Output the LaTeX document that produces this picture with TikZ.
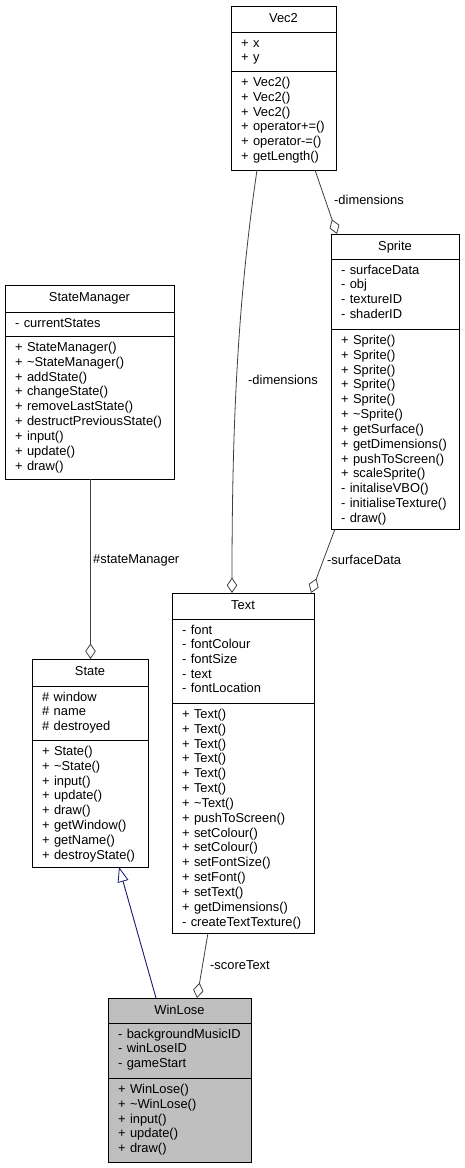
\documentclass[tikz,border=0pt]{standalone}
\usepackage{fontspec}
\setmainfont{Liberation Sans}
\usetikzlibrary{arrows.meta}
\definecolor{conn}{HTML}{404040}
\definecolor{inh}{HTML}{191970}
\definecolor{hl}{HTML}{BFBFBF}
\tikzset{
  classbox/.style={draw=black, line width=0.9pt, inner sep=0pt, outer sep=0pt},
  boxline/.style={draw=black, line width=0.9pt},
  titletext/.style={anchor=base, inner sep=0pt, font=\fontsize{12.9}{14.6}\selectfont},
  attrtext/.style={anchor=base west, align=left, text width=150pt, inner sep=0pt, font=\fontsize{12.9}{14.6}\selectfont},
  methtext/.style={anchor=base west, align=left, text width=150pt, inner sep=0pt, font=\fontsize{12.9}{14.85}\selectfont},
  lbl/.style={inner sep=0pt, font=\fontsize{12.9}{14.6}\selectfont},
  member/.style={draw=conn, line width=0.8pt, -{Diamond[open, length=15.5pt, width=10.5pt, line width=0.8pt]}},
  inherit/.style={draw=inh, line width=0.9pt, -{Triangle[open, length=15pt, width=11pt, line width=0.8pt]}}
}
\newcommand\umlbox[8]{%
  \node[classbox, fill=#8, minimum width={#4-#2}, minimum height={#5-#3}, anchor=north west] (#1) at (#2,#3) {};
  \coordinate (#1-s1) at (#2,#6);
  \coordinate (#1-s2) at (#2,#7);
  \draw[boxline] (#1-s1) -- (#1-s1 -| #1.east);
  \draw[boxline] (#1-s2) -- (#1-s2 -| #1.east);
}
\newcommand\umltext[4]{%
  \node[titletext] (#1-t) at ([yshift=-16.5pt]#1.north) {#2};
  \node[attrtext] (#1-a) at ([xshift=10pt,yshift=-15.3pt]#1-s1) {#3};
  \node[methtext] (#1-m) at ([xshift=10pt,yshift=-15.3pt]#1-s2) {#4};
}
\begin{document}
\begin{tikzpicture}[x=1pt,y=-1pt]
\useasboundingbox[fill=white] (0,0) rectangle (465,1168);
% Vec2
\umlbox{vec2}{231}{6}{336}{170}{32}{71}{white}
\umltext{vec2}{Vec2}{+ x\\+ y}{+ Vec2()\\+ Vec2()\\+ Vec2()\\+ operator+=()\\+ operator-=()\\+ getLength()}
% Sprite
\umlbox{sprite}{331}{234}{459}{529}{259}{329}{white}
\umltext{sprite}{Sprite}{- surfaceData\\- obj\\- textureID\\- shaderID}{+ Sprite()\\+ Sprite()\\+ Sprite()\\+ Sprite()\\+ Sprite()\\+ \textasciitilde Sprite()\\+ getSurface()\\+ getDimensions()\\+ pushToScreen()\\+ scaleSprite()\\- initaliseVBO()\\- initialiseTexture()\\- draw()}
% StateManager
\umlbox{sm}{5}{285}{174}{479}{312}{336}{white}
\umltext{sm}{StateManager}{- currentStates}{+ StateManager()\\+ \textasciitilde StateManager()\\+ addState()\\+ changeState()\\+ removeLastState()\\+ destructPreviousState()\\+ input()\\+ update()\\+ draw()}
% State
\umlbox{state}{32}{659}{148}{867}{686}{740}{white}
\umltext{state}{State}{\# window\\\# name\\\# destroyed}{+ State()\\+ \textasciitilde State()\\+ input()\\+ update()\\+ draw()\\+ getWindow()\\+ getName()\\+ destroyState()}
% Text
\umlbox{text}{172}{593}{314}{933}{619}{703}{white}
\umltext{text}{Text}{- font\\- fontColour\\- fontSize\\- text\\- fontLocation}{+ Text()\\+ Text()\\+ Text()\\+ Text()\\+ Text()\\+ Text()\\+ \textasciitilde Text()\\+ pushToScreen()\\+ setColour()\\+ setColour()\\+ setFontSize()\\+ setFont()\\+ setText()\\+ getDimensions()\\- createTextTexture()}
% WinLose
\umlbox{wl}{108}{998}{251}{1162}{1023}{1078}{hl}
\umltext{wl}{WinLose}{- backgroundMusicID\\- winLoseID\\- gameStart}{+ WinLose()\\+ \textasciitilde WinLose()\\+ input()\\+ update()\\+ draw()}
% connectors
\draw[member] ([xshift=26pt]vec2.south west) .. controls (238,300) and (232,420) .. ([xshift=60pt]text.north west);
\node[lbl, anchor=west] (l1) at (248,380) {-dimensions};
\draw[member] ([xshift=84pt]vec2.south west) -- ([xshift=6pt]sprite.north west);
\node[lbl, anchor=west] (l2) at (334,200) {-dimensions};
\draw[member] ([xshift=4pt]sprite.south west) -- ([xshift=-3pt]text.north east);
\node[lbl, anchor=west] (l3) at (327,560) {-surfaceData};
\draw[member] ([xshift=85.5pt]sm.south west) -- ([xshift=58.5pt]state.north west);
\node[lbl, anchor=west] (l4) at (93,560) {\#stateManager};
\draw[member] ([xshift=36pt]text.south west) -- ([xshift=89pt]wl.north west);
\node[lbl, anchor=west] (l5) at (210,965) {-scoreText};
\draw[inherit] ([xshift=48pt]wl.north west) -- ([xshift=87pt]state.south west);
\end{tikzpicture}
\end{document}
